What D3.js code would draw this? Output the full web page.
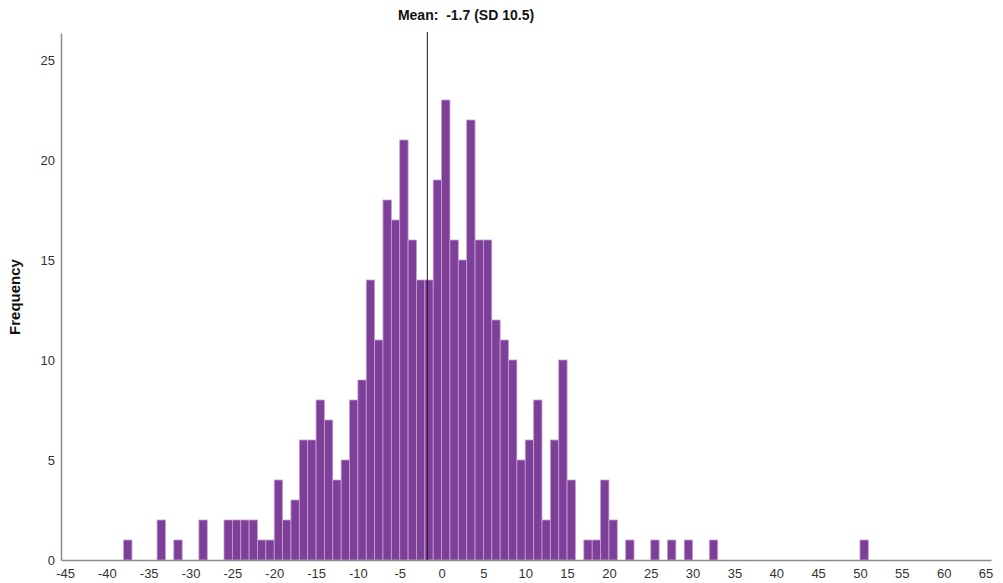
<!DOCTYPE html>
<html>
<head>
<meta charset="utf-8">
<script src="https://cdn.jsdelivr.net/npm/d3@7"></script>
<style>
  html, body { margin: 0; padding: 0; background: #ffffff; }
  svg { display: block; font-family: "Liberation Sans", Arial, sans-serif; }
</style>
</head>
<body>
<svg id="chart" width="1003" height="583"></svg>
<script>
// Histogram bins: each bin covers [start, start + 1)
const binStarts = [-38, -34, -32, -29, -26, -25, -24, -23, -22, -21, -20, -19, -18, -17, -16, -15,
  -14, -13, -12, -11, -10, -9, -8, -7, -6, -5, -4, -3, -2, -1, 0, 1, 2, 3, 4, 5, 6, 7, 8, 9,
  10, 11, 12, 13, 14, 15, 17, 18, 19, 20, 22, 25, 27, 29, 32, 50];
const frequencies = [1, 2, 1, 2, 2, 2, 2, 2, 1, 1, 4, 2, 3, 6, 6, 8,
  7, 4, 5, 8, 9, 14, 11, 18, 17, 21, 16, 14, 14, 19, 23, 16, 15, 22, 16, 16, 12, 11, 10, 5,
  6, 8, 2, 6, 10, 4, 1, 1, 4, 2, 1, 1, 1, 1, 1, 1];
const binWidth = 1;

const xTickValues = [-45, -40, -35, -30, -25, -20, -15, -10, -5, 0, 5, 10, 15, 20, 25, 30, 35, 40, 45, 50, 55, 60, 65];
const yTickValues = [0, 5, 10, 15, 20, 25];

const meanValue = -1.7;
const sdValue = 10.5;

const bins = binStarts.map((s, i) => ({ start: s, count: frequencies[i] }));

const svg = d3.select("#chart");

const x = d3.scaleLinear().domain([-45.48, 65.66]).range([61, 991]);
const y = d3.scaleLinear().domain([0, 26.35]).range([560, 33]);

// bars
svg.append("g")
  .selectAll("rect")
  .data(bins)
  .join("rect")
  .attr("x", d => x(d.start))
  .attr("width", d => x(d.start + binWidth) - x(d.start))
  .attr("y", d => y(d.count))
  .attr("height", d => y(0) - y(d.count))
  .attr("fill", "#7e3f98")
  .attr("stroke", "#c3a1d3")
  .attr("stroke-width", 0.8);

// axes (plain hyphen-minus for negative labels)
const axisColor = "#8c8c8c";
const labelColor = "#333333";
const plainFormat = d => String(d);

const xAxis = svg.append("g")
  .attr("transform", `translate(0,${y(0)})`)
  .call(d3.axisBottom(x).tickValues(xTickValues).tickFormat(plainFormat)
    .tickSize(0).tickPadding(9).tickSizeOuter(0));
xAxis.select(".domain").attr("stroke", axisColor).attr("stroke-width", 1.5);
xAxis.selectAll("text").attr("fill", labelColor).style("font-size", "13px")
  .style("font-family", "'Liberation Sans', Arial, sans-serif");

const yAxis = svg.append("g")
  .attr("transform", `translate(${x.range()[0]},0)`)
  .call(d3.axisLeft(y).tickValues(yTickValues).tickFormat(plainFormat)
    .tickSize(0).tickPadding(6).tickSizeOuter(0));
yAxis.select(".domain").attr("stroke", axisColor).attr("stroke-width", 1.5);
yAxis.selectAll("text").attr("fill", labelColor).style("font-size", "13px")
  .style("font-family", "'Liberation Sans', Arial, sans-serif");

// mean reference line
svg.append("line")
  .attr("x1", x(meanValue)).attr("x2", x(meanValue))
  .attr("y1", y.range()[1] - 1).attr("y2", y(0))
  .attr("stroke", "#1a1a1a")
  .attr("stroke-width", 1);

// title
svg.append("text")
  .attr("x", 466)
  .attr("y", 20)
  .attr("text-anchor", "middle")
  .style("white-space", "pre")
  .style("font-size", "14px")
  .style("font-weight", "bold")
  .attr("fill", "#111")
  .text(`Mean:  ${meanValue} (SD ${sdValue})`);

// y axis title
svg.append("text")
  .attr("transform", "translate(20,297) rotate(-90)")
  .attr("text-anchor", "middle")
  .style("font-size", "15px")
  .style("font-weight", "bold")
  .attr("fill", "#111")
  .text("Frequency");
</script>
</body>
</html>
